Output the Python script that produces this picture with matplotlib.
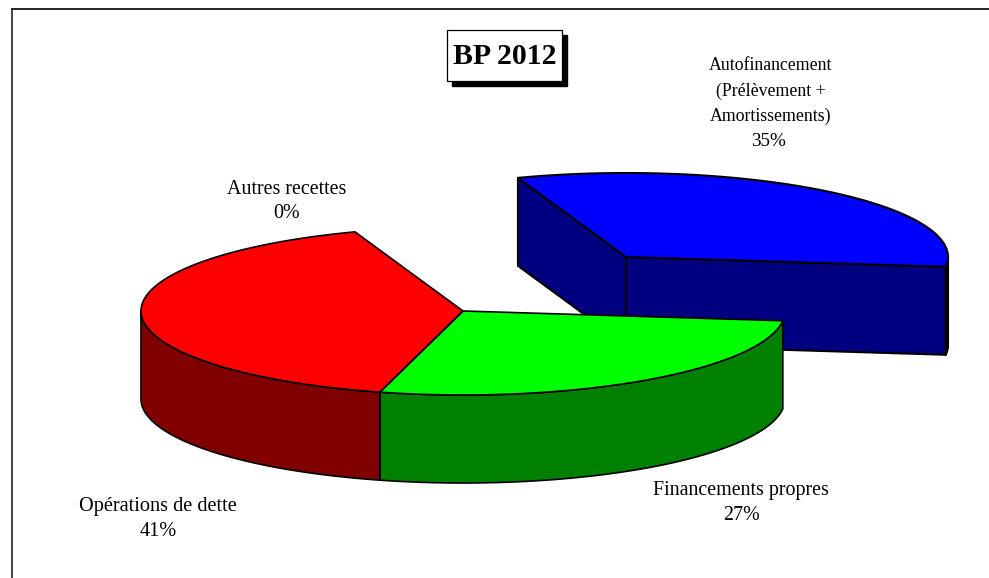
import numpy as np
import matplotlib
matplotlib.use("Agg")
import matplotlib.pyplot as plt
from matplotlib.patches import Polygon, Rectangle

plt.rcParams['font.family'] = ['Liberation Serif', 'DejaVu Serif']

categories = ["Autofinancement", "Financements propres", "Opérations de dette", "Autres recettes"]
shares = [32.3, 27.3, 40.4, 0.0]
percent_labels = ["35%", "27%", "41%", "0%"]

top_colors = ["#0000ff", "#00ff00", "#ff0000", "#ff0000"]
side_colors = ["#000080", "#008000", "#800000", "#800000"]

start_angle = 109.6
cx, cy = 463, 311
rx, ry = 322, 84
depth = 88
explode = [(163, -54), (0, 0), (0, 0), (0, 0)]

fig = plt.figure(figsize=(9.89, 5.78), dpi=100)
ax = fig.add_axes([0, 0, 1, 1])
ax.set_xlim(0, 989)
ax.set_ylim(578, 0)
ax.axis("off")


def arc(x0, y0, a1, a2):
    t = np.radians(np.linspace(a1, a2, 120))
    return np.column_stack([x0 + rx * np.cos(t), y0 - ry * np.sin(t)])


def poly(pts, color, lw=1.3, z=1):
    ax.add_patch(Polygon(pts, closed=True, facecolor=color, edgecolor="black",
                         linewidth=lw, joinstyle="round", zorder=z))


# angle ranges of the slices
bounds = start_angle - np.cumsum([0] + shares) * 3.6
order = [0, 1, 2]  # exploded slice is behind the others

for i in order:
    if shares[i] == 0:
        continue
    a1, a2 = bounds[i], bounds[i + 1]
    x0, y0 = cx + explode[i][0], cy + explode[i][1]
    lw = 1.5 if i == 0 else 1.2

    # radial walls, only for the exploded slice
    if explode[i] != (0, 0):
        for a in (a1, a2):
            edge = arc(x0, y0, a, a)[0]
            poly([(x0, y0), edge, edge + (0, depth), (x0, y0 + depth)], side_colors[i], lw)

    # outer rim, only the front half shows
    lo, hi = max(a2, -180), min(a1, 0)
    if lo < hi:
        rim = arc(x0, y0, lo, hi)
        poly(np.vstack([rim, (rim + (0, depth))[::-1]]), side_colors[i], lw)

    # top face
    poly(np.vstack([[(x0, y0)], arc(x0, y0, a1, a2)]), top_colors[i], lw)

# frame, only top and left are in the picture
ax.plot([12, 989], [9, 9], color="black", lw=1.2, clip_on=False)
ax.plot([12, 12], [9, 578], color="#222222", lw=1.2, clip_on=False)

# title box with drop shadow
ax.add_patch(Rectangle((452, 35), 115, 51, facecolor="black", edgecolor="black", zorder=3))
ax.add_patch(Rectangle((447, 30), 115, 51, facecolor="white", edgecolor="black", lw=0.9, zorder=4))
ax.text(504.5, 57, "BP 2012", fontsize=21.4, fontweight="bold", ha="center", va="center", zorder=5)

# labels
ax.text(771, 66, "Autofinancement", fontsize=12.8, ha="center", va="center")
ax.text(771, 91, "(Prélèvement +", fontsize=12.8, ha="center", va="center")
ax.text(771, 116, "Amortissements)", fontsize=12.8, ha="center", va="center")
ax.text(769, 142, percent_labels[0], fontsize=13.8, ha="center", va="center")

ax.text(741, 491, categories[1], fontsize=14.4, ha="center", va="center")
ax.text(741, 516, percent_labels[1], fontsize=14.4, ha="center", va="center")

ax.text(158, 506, categories[2], fontsize=14.6, ha="center", va="center")
ax.text(158, 531, percent_labels[2], fontsize=14.6, ha="center", va="center")

ax.text(287, 190, categories[3], fontsize=14.4, ha="center", va="center")
ax.text(287, 213, percent_labels[3], fontsize=14.4, ha="center", va="center")

fig.savefig("out.png", dpi=100)
